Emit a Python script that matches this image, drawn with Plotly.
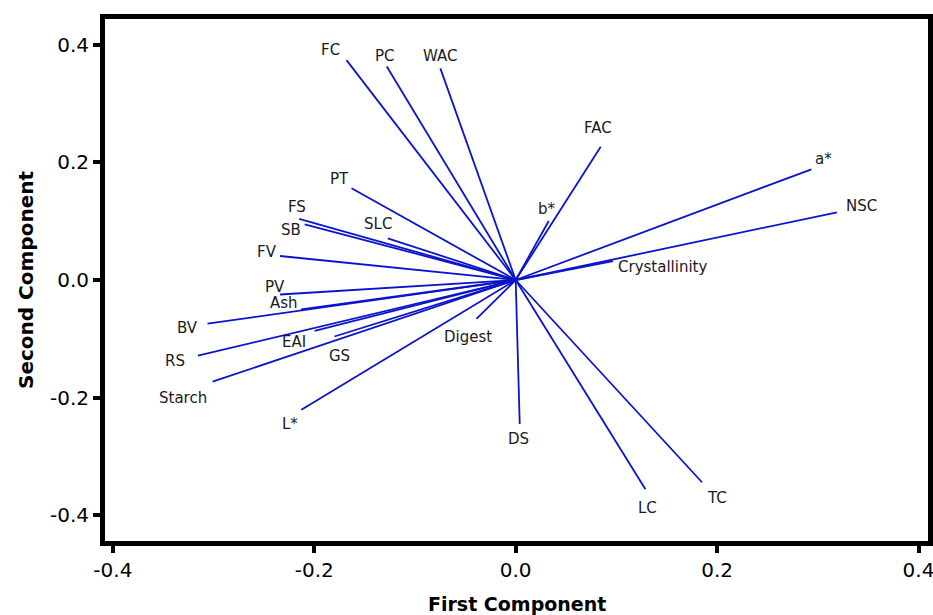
import plotly.graph_objects as go

variables = ["FC", "PC", "WAC", "PT", "FS", "SB", "SLC", "FV", "PV", "Ash",
             "BV", "EAI", "GS", "RS", "Starch", "L*", "Digest", "DS", "LC", "TC",
             "FAC", "a*", "NSC", "b*", "Crystallinity"]
pc1 = [-0.168, -0.128, -0.0748, -0.163, -0.215, -0.2095, -0.127, -0.234, -0.234, -0.213,
       -0.306, -0.1996, -0.180, -0.3155, -0.301, -0.2128, -0.039, 0.004, 0.1288, 0.185,
       0.0844, 0.2936, 0.319, 0.0328, 0.0966]
pc2 = [0.374, 0.363, 0.360, 0.156, 0.104, 0.0947, 0.0709, 0.0408, -0.0247, -0.0498,
       -0.0743, -0.0867, -0.0961, -0.1287, -0.173, -0.2206, -0.0663, -0.245, -0.356, -0.344,
       0.2267, 0.1883, 0.1151, 0.1003, 0.0323]
tick_vals = [-0.4, -0.2, 0.0, 0.2, 0.4]
tick_text = ["-0.4", "-0.2", "0.0", "0.2", "0.4"]
x_title = "First Component"
y_title = "Second Component"

# label offsets in pixels (style, not data)
label_shift = {
    "FC": (-16, 10), "PC": (-2, 11), "WAC": (0, 12), "PT": (-12, 9), "FS": (-2, 12),
    "SB": (-14, -6), "SLC": (-10, 14), "FV": (-13, 4), "PV": (-5, 8), "Ash": (-17, 6),
    "BV": (-20, -4), "EAI": (-21, -11), "GS": (5, -19), "RS": (-23, -5), "Starch": (-30, -16),
    "L*": (-11, -14), "Digest": (-8, -18), "DS": (-1, -15), "LC": (2, -19), "TC": (15, -16),
    "FAC": (-3, 19), "a*": (12, 10), "NSC": (25, 6), "b*": (-2, 12), "Crystallinity": (50, -6),
}

xs, ys = [], []
for a, b in zip(pc1, pc2):
    xs += [0, a, None]
    ys += [0, b, None]

fig = go.Figure()
fig.add_trace(go.Scatter(x=xs, y=ys, mode="lines",
                         line=dict(color="#0a14cc", width=1.8),
                         hoverinfo="skip", showlegend=False))

anns = []
for name, a, b in zip(variables, pc1, pc2):
    dx, dy = label_shift[name]
    anns.append(dict(x=a, y=b, text=name, showarrow=False, xshift=dx, yshift=dy,
                     xanchor="center", yanchor="middle",
                     font=dict(family="DejaVu Sans", size=15, color="#1a1a1a")))

# axis titles placed in pixel terms relative to the plot area
anns.append(dict(x=0.5, y=0, xref="paper", yref="paper", text="<b>" + x_title + "</b>",
                 showarrow=False, xanchor="center", yanchor="middle", yshift=-63,
                 font=dict(family="DejaVu Sans", size=19, color="black")))
anns.append(dict(x=0, y=0.5, xref="paper", yref="paper", text="<b>" + y_title + "</b>",
                 showarrow=False, xanchor="center", yanchor="middle", xshift=-79,
                 textangle=-90,
                 font=dict(family="DejaVu Sans", size=20, color="black")))

axis_common = dict(showgrid=False, zeroline=False, showline=True, linecolor="black",
                   linewidth=5, mirror=True, ticks="outside", ticklen=7, tickwidth=4,
                   tickcolor="black", tickvals=tick_vals, ticktext=tick_text,
                   automargin=False, ticklabeloverflow="allow",
                   tickfont=dict(family="DejaVu Sans", size=20, color="black"))

fig.update_layout(
    width=933, height=615,
    margin=dict(l=105, r=5, t=19, b=74),
    paper_bgcolor="white", plot_bgcolor="white",
    xaxis=dict(range=[-0.4078, 0.4094], **axis_common),
    yaxis=dict(range=[-0.4439, 0.4439], **axis_common),
    annotations=anns,
)

fig.write_html("out.html", config={"displayModeBar": False},
               post_script="document.body.style.margin='0';document.body.style.overflow='hidden';")
